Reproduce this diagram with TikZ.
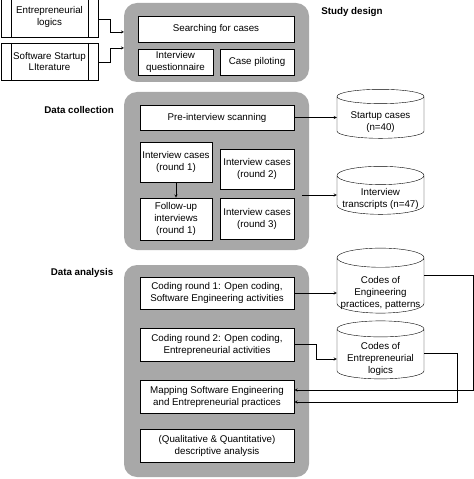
\documentclass[tikz,border=0pt]{standalone}
\usepackage{fontspec}
\setmainfont{Liberation Sans}
\usetikzlibrary{shapes.geometric,shadows}
\definecolor{groupgray}{RGB}{168,168,168}
% text of a store, lowered below the top ellipse
\newcommand{\lowered}[2]{\raisebox{#1}[0pt][0pt]{\begin{tabular}{@{}c@{}}#2\end{tabular}}}

\begin{document}
\begin{tikzpicture}[x=1bp, y=-1bp, >=stealth,
    every node/.style={font=\fontsize{9.8}{12}\selectfont, align=center},
    box/.style={draw, thick, fill=white, inner sep=0pt,
        drop shadow={shadow xshift=1.2bp, shadow yshift=-1.2bp, opacity=0.6, fill=black!70}},
    procbox/.style={draw, fill=white, inner sep=0pt, minimum width=97bp,
        path picture={
            \draw ([xshift=10bp]path picture bounding box.north west) -- ([xshift=10bp]path picture bounding box.south west);
            \draw ([xshift=-10bp]path picture bounding box.north east) -- ([xshift=-10bp]path picture bounding box.south east);}},
    store/.style={draw, cylinder, shape border rotate=90, aspect=0.24,
        minimum width=87bp, inner sep=0pt, fill=white},
    group/.style={fill=groupgray, rounded corners=13bp},
    phase/.style={font=\fontsize{9.8}{12}\selectfont\bfseries}]
    \useasboundingbox (0,0) rectangle (474,479);

    % Grey phase blocks
    \fill[group] (124,3) rectangle (309,82);
    \fill[group] (124,92) rectangle (309,250);
    \fill[group] (124,265) rectangle (309,477);

    % Study design
    \node[procbox, minimum height=40bp] (logics) at (49.5,17) {Entrepreneurial\\logics};
    \node[procbox, minimum height=37bp] (lit) at (49.5,61.5) {Software Startup\\LIterature};
    \node[phase] (design) at (352,12) {Study design};
    \node[box, minimum width=156bp, minimum height=26bp] (search) at (216,29) {Searching for cases};
    \node[box, minimum width=75bp, minimum height=26bp] (quest) at (175.5,62) {Interview\\questionnaire};
    \node[box, minimum width=74bp, minimum height=26bp] (pilot) at (257,62) {Case piloting};
    \coordinate (in1) at (124,32);
    \coordinate (in2) at (124,48);

    % Data collection
    \node[phase] (collect) at (79,110) {Data collection};
    \node[box, minimum width=154bp, minimum height=25bp] (scan) at (217,117.5) {Pre-interview scanning};
    \node[box, minimum width=72bp, minimum height=40bp] (round1) at (176,162) {Interview cases\\(round 1)};
    \node[box, minimum width=74bp, minimum height=40bp] (round2) at (257,169) {Interview cases\\(round 2)};
    \node[box, minimum width=72bp, minimum height=42bp] (follow) at (176,219) {Follow-up\\interviews\\(round 1)};
    \node[box, minimum width=74bp, minimum height=41bp] (round3) at (257,218.5) {Interview cases\\(round 3)};
    \node[store, minimum height=49bp] (cases) at (380.5,117.5) {\lowered{-7pt}{Startup cases\\(n=40)}};
    \node[store, minimum height=48bp] (trans) at (380.5,195) {\lowered{-7pt}{Interview\\transcripts (n=47)}};
    \coordinate (out2) at (302,195);

    % Data analysis
    \node[phase] (analysis) at (82,273) {Data analysis};
    \node[box, minimum width=154bp, minimum height=32bp] (code1) at (217,293) {Coding round 1: Open coding,\\Software Engineering activities};
    \node[box, minimum width=154bp, minimum height=33bp] (code2) at (217,344.5) {Coding round 2: Open coding,\\Entrepreneurial activities};
    \node[box, minimum width=154bp, minimum height=33bp] (mapping) at (217,396.5) {Mapping Software Engineering\\and Entrepreneurial practices};
    \node[box, minimum width=154bp, minimum height=33bp] (descr) at (217,445.5) {(Qualitative \& Quantitative)\\descriptive analysis};
    \node[store, minimum height=65bp] (engcodes) at (380.5,285.5) {\lowered{-10pt}{Codes of\\Engineering\\practices, patterns}};
    \node[store, minimum height=58bp] (entcodes) at (380.5,354) {\lowered{-8pt}{Codes of\\Entrepreneurial\\logics}};

    % Connectors
    \draw[->] (logics.east |- 0,19) -- (110,19) |- (in1);
    \draw[->] (lit.east |- 0,62) -- (110,62) |- (in2);
    \draw[->] (scan.east) -- (cases.west |- scan.east);
    \draw[->] (round1.south) -- (follow.north);
    \draw[->] (out2) -- (trans.west |- out2);
    \draw[->] (code1.east) -- (engcodes.west |- code1.east);
    \draw[->] (code2.east) -- (316,344.5) |- (entcodes.west |- 0,359);
    \draw[->] (engcodes.east |- 0,275) -- (473,275) |- (mapping.east |- 0,390);
    \draw[->] (entcodes.east |- 0,353) -- (457,353) |- (mapping.east |- 0,402);
\end{tikzpicture}
\end{document}
